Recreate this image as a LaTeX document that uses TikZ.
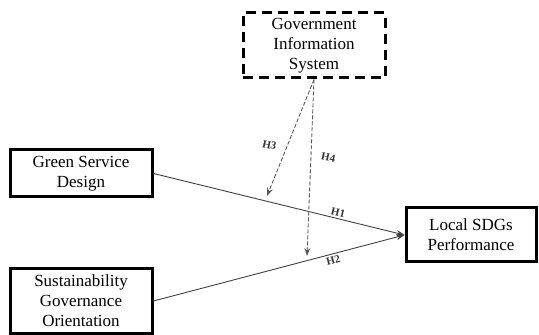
\documentclass[tikz,border=0pt]{standalone}
\usepackage{fontspec}
\setmainfont{Liberation Serif}
\usetikzlibrary{arrows.meta}

\begin{document}
\begin{tikzpicture}[x=0.5pt, y=-0.5pt,
    box/.style={line width=1.5pt, draw, align=center, inner sep=0pt, font=\fontsize{8.5}{10}\selectfont},
    link/.style={black!75, line width=0.45pt, -{Stealth[length=4pt, width=3pt]}},
    moderate/.style={black!65, line width=0.45pt, dash pattern=on 2pt off 1pt, -{Stealth[length=4pt, width=3pt]}},
    hyp/.style={black!80, inner sep=1pt, font=\fontsize{5.5}{6}\selectfont\bfseries}]
    \useasboundingbox (0, 0) rectangle (539, 335);

    % Draw nodes
    \node[box, dash pattern=on 5pt off 3pt, minimum width=71pt, minimum height=32.5pt] (1) at (314, 45.5) {Government\\Information\\System};
    \node[box, minimum width=71pt, minimum height=23.5pt] (2) at (81, 173.5) {Green Service\\Design};
    \node[box, minimum width=71pt, minimum height=32.5pt] (3) at (81, 301) {Sustainability\\Governance\\Orientation};
    \node[box, minimum width=65pt, minimum height=27pt] (4) at (471, 235) {Local SDGs\\Performance};

    \coordinate (h3) at (267, 196);
    \coordinate (h4) at (307, 256);

    % Draw edges
    \draw[link] (2.east) -- node[hyp, sloped, above, pos=0.73] {H1} (4.west);
    \draw[link] (3.east) -- node[hyp, sloped, below, pos=0.71] {H2} (4.west);
    \draw[moderate] (1.south) -- node[hyp, left=4pt, pos=0.58, rotate=-12] {H3} (h3);
    \draw[moderate] (1.south) -- node[hyp, right=4pt, pos=0.43, rotate=-12] {H4} (h4);
\end{tikzpicture}
\end{document}
